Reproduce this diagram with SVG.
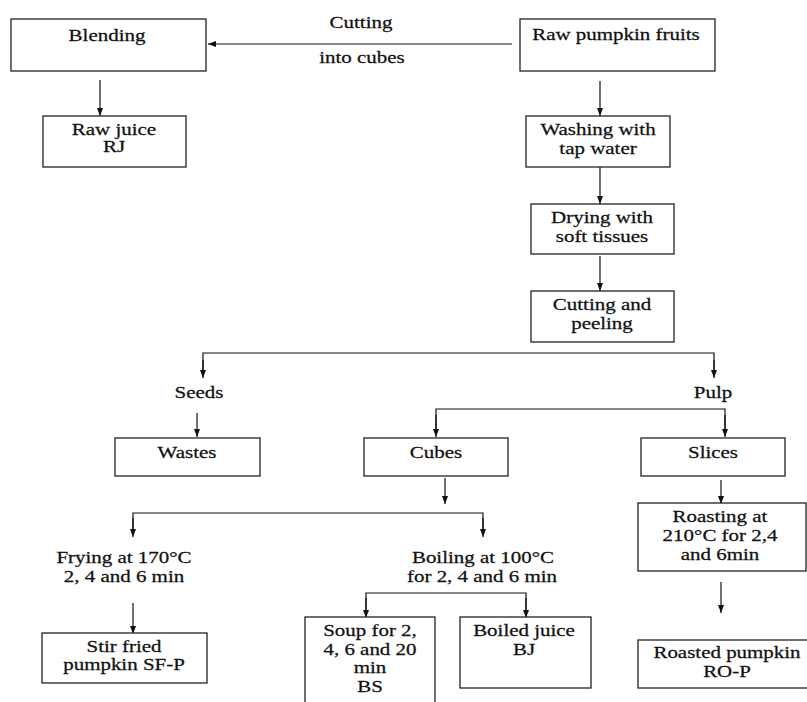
<svg xmlns="http://www.w3.org/2000/svg" width="807" height="702" viewBox="0 0 807 702">
<style>
rect.box{fill:#fff;stroke:#222;stroke-width:1.3}
.t text{font-size:16.5px;fill:#111;stroke:#111;stroke-width:0.25;text-anchor:middle}
.ln{fill:none;stroke:#111;stroke-width:1.2}
</style>
<defs>
<marker id="ah" markerUnits="userSpaceOnUse" markerWidth="10" markerHeight="10" viewBox="0 0 10 10" refX="9" refY="5" orient="auto">
<path d="M1,2 L9,5 L1,8 Z" fill="#111"/>
</marker>
</defs>
<rect width="807" height="702" fill="#fff"/>

<g id="connectors">
<line class="ln" x1="512" y1="44" x2="208" y2="44" marker-end="url(#ah)"/>
<line class="ln" x1="100" y1="80" x2="100" y2="116" marker-end="url(#ah)"/>
<line class="ln" x1="600" y1="81" x2="600" y2="116" marker-end="url(#ah)"/>
<line class="ln" x1="600" y1="167" x2="600" y2="204" marker-end="url(#ah)"/>
<line class="ln" x1="600" y1="256" x2="600" y2="291" marker-end="url(#ah)"/>
<polyline class="ln" points="203,370 203,353 714,353 714,370"/>
<line class="ln" x1="203" y1="360" x2="203" y2="378" marker-end="url(#ah)"/>
<line class="ln" x1="714" y1="360" x2="714" y2="378" marker-end="url(#ah)"/>
<line class="ln" x1="197" y1="413" x2="197" y2="437" marker-end="url(#ah)"/>
<polyline class="ln" points="436,430 436,409 725,409 725,430"/>
<line class="ln" x1="436" y1="415" x2="436" y2="437" marker-end="url(#ah)"/>
<line class="ln" x1="725" y1="415" x2="725" y2="437" marker-end="url(#ah)"/>
<line class="ln" x1="445" y1="478" x2="445" y2="504" marker-end="url(#ah)"/>
<polyline class="ln" points="133,530 133,513 483,513 483,530"/>
<line class="ln" x1="133" y1="518" x2="133" y2="537" marker-end="url(#ah)"/>
<line class="ln" x1="483" y1="518" x2="483" y2="537" marker-end="url(#ah)"/>
<line class="ln" x1="133" y1="603" x2="133" y2="634" marker-end="url(#ah)"/>
<polyline class="ln" points="366,610 366,593 526,593 526,610"/>
<line class="ln" x1="366" y1="598" x2="366" y2="618" marker-end="url(#ah)"/>
<line class="ln" x1="526" y1="598" x2="526" y2="618" marker-end="url(#ah)"/>
<line class="ln" x1="721" y1="480" x2="721" y2="504" marker-end="url(#ah)"/>
<line class="ln" x1="721" y1="582" x2="721" y2="613" marker-end="url(#ah)"/>
</g>

<g class="t" font-family="'Liberation Serif', 'Times New Roman', 'DejaVu Serif', serif">
<g id="cutting-label">
<text transform="translate(361,28) scale(1.27,1)">Cutting</text>
<text transform="translate(362,63) scale(1.27,1)">into cubes</text>
</g>

<g id="blending">
<rect class="box" x="11" y="19" width="195" height="52"/>
<text transform="translate(107,41) scale(1.27,1)">Blending</text>
</g>

<g id="raw-pumpkin">
<rect class="box" x="520" y="19" width="195" height="52"/>
<text transform="translate(616,40) scale(1.27,1)">Raw pumpkin fruits</text>
</g>

<g id="raw-juice">
<rect class="box" x="43" y="116" width="143" height="51"/>
<text transform="translate(114,135) scale(1.27,1)">Raw juice</text>
<text transform="translate(114,152) scale(1.27,1)">RJ</text>
</g>

<g id="washing">
<rect class="box" x="526" y="116" width="144" height="51"/>
<text transform="translate(598,135) scale(1.27,1)">Washing with</text>
<text transform="translate(598,154) scale(1.27,1)">tap water</text>
</g>

<g id="drying">
<rect class="box" x="531" y="204" width="143" height="50"/>
<text transform="translate(602,223) scale(1.27,1)">Drying with</text>
<text transform="translate(602,242) scale(1.27,1)">soft tissues</text>
</g>

<g id="cutting-peeling">
<rect class="box" x="531" y="291" width="143" height="51"/>
<text transform="translate(602,310) scale(1.27,1)">Cutting and</text>
<text transform="translate(602,329) scale(1.27,1)">peeling</text>
</g>

<g id="seeds">
<text transform="translate(199,398) scale(1.27,1)">Seeds</text>
</g>

<g id="pulp">
<text transform="translate(713,398) scale(1.27,1)">Pulp</text>
</g>

<g id="wastes">
<rect class="box" x="115" y="438" width="145" height="38"/>
<text transform="translate(187,458) scale(1.27,1)">Wastes</text>
</g>

<g id="cubes">
<rect class="box" x="364" y="438" width="144" height="38"/>
<text transform="translate(436,458) scale(1.27,1)">Cubes</text>
</g>

<g id="slices">
<rect class="box" x="641" y="438" width="144" height="38"/>
<text transform="translate(713,458) scale(1.27,1)">Slices</text>
</g>

<g id="frying">
<text transform="translate(124,563) scale(1.27,1)">Frying at 170°C</text>
<text transform="translate(124,582) scale(1.27,1)">2, 4 and 6 min</text>
</g>

<g id="boiling">
<text transform="translate(483,563) scale(1.27,1)">Boiling at 100°C</text>
<text transform="translate(482,582) scale(1.27,1)">for 2, 4 and 6 min</text>
</g>

<g id="roasting">
<rect class="box" x="638" y="503" width="168" height="68"/>
<text transform="translate(720,522) scale(1.27,1)">Roasting at</text>
<text transform="translate(720,541) scale(1.27,1)">210°C for 2,4</text>
<text transform="translate(720,560) scale(1.27,1)">and 6min</text>
</g>

<g id="stir-fried">
<rect class="box" x="42" y="633" width="165" height="50"/>
<text transform="translate(124,652) scale(1.27,1)">Stir fried</text>
<text transform="translate(124,670) scale(1.27,1)">pumpkin SF-P</text>
</g>

<g id="soup">
<rect class="box" x="305" y="617" width="130" height="100"/>
<text transform="translate(370,636) scale(1.27,1)">Soup for 2,</text>
<text transform="translate(370,655) scale(1.27,1)">4, 6 and 20</text>
<text transform="translate(370,673) scale(1.27,1)">min</text>
<text transform="translate(370,692) scale(1.27,1)">BS</text>
</g>

<g id="boiled-juice">
<rect class="box" x="460" y="617" width="131" height="71"/>
<text transform="translate(524,636) scale(1.27,1)">Boiled juice</text>
<text transform="translate(524,655) scale(1.27,1)">BJ</text>
</g>

<g id="roasted">
<rect class="box" x="638" y="640" width="180" height="48"/>
<text transform="translate(727,658) scale(1.27,1)">Roasted pumpkin</text>
<text transform="translate(727,677) scale(1.27,1)">RO-P</text>
</g>
</g>
</svg>
